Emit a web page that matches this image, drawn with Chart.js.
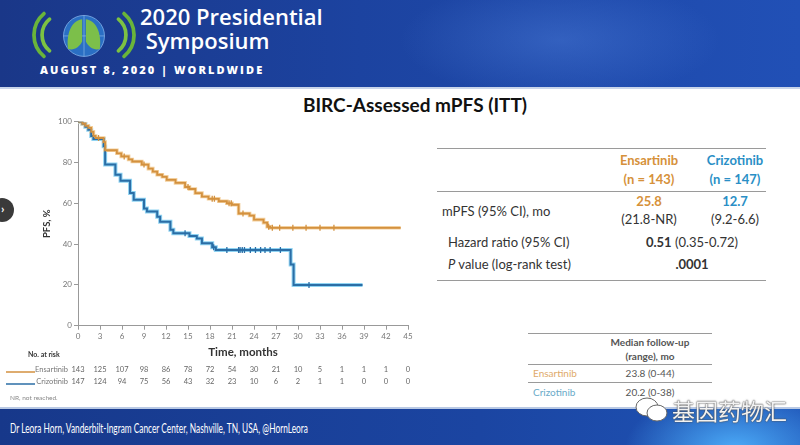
<!DOCTYPE html>
<html>
<head>
<meta charset="utf-8">
<script src="https://cdn.jsdelivr.net/npm/chart.js@4.4.0/dist/chart.umd.min.js"></script>
<style>
  body { margin: 0; width: 800px; height: 445px; overflow: hidden; background: #fff; font-family: Lato, "Open Sans", sans-serif; position: relative; }
  .abs { position: absolute; white-space: nowrap; }
  #header { left: 0; top: 0; width: 800px; height: 87px;
    background: radial-gradient(ellipse 160px 60px at 560px 40px, rgba(90,140,230,0.35), rgba(0,0,0,0)),
                linear-gradient(90deg, #1a3788 0%, #1c43a0 45%, #2150b6 100%);
    border-bottom: 2px solid #c9d5ea; }
  #footer { left: 0; top: 407px; width: 800px; height: 38px;
    background: radial-gradient(ellipse 110px 60px at 735px 40px, rgba(80,180,255,0.9), rgba(0,0,0,0)),
                linear-gradient(90deg, #17388a 0%, #1b45a2 60%, #1f55b8 100%);
    border-top: 2px solid #b9c9e4; }
  .t { color: #333; font-size: 13px; }
  .c { transform: translateX(-50%); text-align: center; }
  .rule { position: absolute; height: 0; border-top: 1.5px solid #9a9a9a; }
  .ens { color: #d6913a; }
  .crz { color: #2a8fc6; }
</style>
</head>
<body>
<div id="header" class="abs"></div>
<svg class="abs" style="left:32px;top:8px" width="104" height="54" viewBox="0 0 110 58">
  <g fill="none" stroke-linecap="round">
    <path d="M18 12 A22 22 0 0 0 18 46" stroke="#7cc242" stroke-width="4"/>
    <path d="M12 6 A30 30 0 0 0 12 52" stroke="#6ab53a" stroke-width="4"/>
    <path d="M92 12 A22 22 0 0 1 92 46" stroke="#7cc242" stroke-width="4"/>
    <path d="M98 6 A30 30 0 0 1 98 52" stroke="#6ab53a" stroke-width="4"/>
  </g>
  <circle cx="55" cy="30" r="22" fill="#2a6fc4" stroke="#8ab8ee" stroke-width="0.8"/>
  <path d="M33 30 H77 M55 8 V52" stroke="#9cc6f0" stroke-width="0.6"/>
  <path d="M53 12 C40 14 36 30 38 44 C44 46 50 42 53 36 Z M57 12 C70 14 74 30 72 44 C66 46 60 42 57 36 Z" fill="#7cbf4a"/>
</svg>
<div class="abs" style="left:140px;top:4px;color:#fff;font-size:22px;line-height:24px;font-weight:600;font-family:'Open Sans',Lato,sans-serif">2020 Presidential<br>&nbsp;Symposium</div>
<div class="abs" style="left:40px;top:62px;color:#fff;font-size:11px;font-weight:900;letter-spacing:2.1px;font-family:'Open Sans',Lato,sans-serif">AUGUST 8, 2020 | WORLDWIDE</div>

<div class="abs" style="left:-10px;top:198px;width:24px;height:24px;border-radius:12px;background:#3a3a3a"></div>
<div class="abs" style="left:1px;top:201px;color:#fff;font-size:12px;font-weight:bold">&rsaquo;</div>

<div class="abs c" style="left:415px;top:93px;font-size:19px;font-weight:bold;color:#111">BIRC-Assessed mPFS (ITT)</div>

<div class="abs" style="left:0;top:112px;width:425px;height:300px"><canvas id="km" width="425" height="300"></canvas></div>

<!-- results table -->
<div class="rule" style="left:437px;top:148px;width:329px"></div>
<div class="abs c ens" style="left:649px;top:151px;font-size:13px;font-weight:bold;line-height:19px">Ensartinib<br>(n = 143)</div>
<div class="abs c crz" style="left:735px;top:151px;font-size:13px;font-weight:bold;line-height:19px">Crizotinib<br>(n = 147)</div>
<div class="rule" style="left:437px;top:191px;width:329px"></div>
<div class="abs t" style="left:442px;top:203px">mPFS (95% CI), mo</div>
<div class="abs c t" style="left:649px;top:192px;line-height:18px"><b class="ens">25.8</b><br>(21.8-NR)</div>
<div class="abs c t" style="left:735px;top:192px;line-height:18px"><b class="crz">12.7</b><br>(9.2-6.6)</div>
<div class="abs t" style="left:448px;top:234px">Hazard ratio (95% CI)</div>
<div class="abs c t" style="left:692px;top:234px"><b>0.51</b> (0.35-0.72)</div>
<div class="abs t" style="left:448px;top:256px"><i>P</i> value (log-rank test)</div>
<div class="abs c t" style="left:692px;top:256px"><b>.0001</b></div>
<div class="rule" style="left:437px;top:280px;width:329px"></div>

<!-- follow-up table -->
<div class="rule" style="left:528px;top:333px;width:184px;border-top-width:1px"></div>
<div class="abs c" style="left:650px;top:335px;font-size:10px;font-weight:bold;color:#555;line-height:14px">Median follow-up<br>(range), mo</div>
<div class="rule" style="left:528px;top:364px;width:184px;border-top-width:1px"></div>
<div class="abs ens" style="left:533px;top:367px;font-size:10px;color:#e0aa6a">Ensartinib</div>
<div class="abs c" style="left:650px;top:367px;font-size:10px;color:#555">23.8 (0-44)</div>
<div class="rule" style="left:528px;top:382px;width:184px;border-top-width:1px"></div>
<div class="abs crz" style="left:533px;top:386px;font-size:10px;color:#6aaac8">Crizotinib</div>
<div class="abs c" style="left:650px;top:386px;font-size:10px;color:#555">20.2 (0-38)</div>

<div id="footer" class="abs"></div>
<div class="abs" style="left:10px;top:420px;color:#fff;font-size:13px;transform:scaleX(0.64);transform-origin:left top">Dr Leora Horn, Vanderbilt-Ingram Cancer Center, Nashville, TN, USA, @HornLeora</div>

<!-- watermark -->
<svg class="abs" style="left:634px;top:396px" width="36" height="28" viewBox="0 0 36 28">
  <ellipse cx="13" cy="11" rx="11" ry="9" fill="#fff" stroke="#666" stroke-width="1"/>
  <ellipse cx="23" cy="17" rx="10" ry="8" fill="#fff" stroke="#666" stroke-width="1"/>
</svg>
<div class="abs" style="left:672px;top:393px;font-size:23px;color:#f2f2f2;font-family:'Noto Sans CJK SC',sans-serif;text-shadow:0 0 2px #555,0 0 1px #333">基因药物汇</div>

<script>
// Kaplan-Meier steps: time (months) where PFS drops, and PFS (%) after the drop
const ensTimes = [0, 0.6, 1.0, 1.4, 1.8, 2.1, 2.4, 3.5, 3.7, 5.3, 5.9, 6.9, 7.4, 8.7, 9.6, 10.2, 10.8, 11.5, 12.1, 13.3, 14.6, 15.2, 16.0, 16.9, 17.8, 19.2, 20.3, 21.0, 21.9, 23.4, 24.0, 25.3, 25.8, 26.2, 44.0];
const ensPfs   = [100, 99, 98, 97, 95, 93, 92, 90, 86, 84.5, 83, 81.5, 80.5, 79, 77, 75.5, 74, 73, 71.5, 70, 68, 67, 65, 63.3, 62.2, 61, 60, 59.3, 55, 54, 52, 50.5, 48.5, 48, 48];
const crzTimes = [0, 0.6, 1.0, 1.4, 1.8, 2.1, 3.5, 3.7, 5.1, 5.8, 7.1, 7.6, 9.0, 9.4, 10.8, 11.2, 12.6, 13.0, 15.2, 16.2, 16.9, 18.3, 18.8, 29.0, 29.4, 38.8];
const crzPfs   = [100, 99, 97.5, 96, 93, 91.5, 88, 79, 74, 71, 65, 61.8, 57.5, 56, 53.4, 51, 47, 45.3, 44, 42.8, 40.4, 38.5, 37.1, 30, 20, 20];

// censoring times (tick marks)
const ensCensor = [2.8, 6.3, 9.0, 15.0, 18.3, 18.6, 20.6, 20.9, 22.5, 26.0, 26.5, 27.5, 29.3, 31.1, 33.0, 34.9];
const crzCensor = [14.6, 18.5, 20.3, 21.9, 22.1, 22.4, 22.7, 23.5, 24.2, 24.9, 25.5, 26.2, 27.6, 31.5];

// number at risk
const riskTimes = [0, 3, 6, 9, 12, 15, 18, 21, 24, 27, 30, 33, 36, 39, 42, 45];
const ensRisk = [143, 125, 107, 98, 86, 78, 72, 54, 30, 21, 10, 5, 1, 1, 1, 0];
const crzRisk = [147, 124, 94, 75, 56, 43, 32, 23, 10, 6, 2, 1, 1, 0, 0, 0];

const ensColor = '#d3913f';
const ensGlow = '#f3cf9c';
const crzColor = '#2b6ea6';
const crzGlow = '#8fd3f2';

function pts(times, vals) {
    return times.map((t, i) => ({x: t, y: vals[i]}));
}
function pfsAt(times, vals, t) {
    let v = vals[0];
    for (let i = 0; i < times.length; i++) {
        if (times[i] <= t) v = vals[i];
    }
    return v;
}
function censorPts(cens, times, vals) {
    return cens.map(t => ({x: t, y: pfsAt(times, vals, t)}));
}

const riskTable = {
    id: 'riskTable',
    afterDraw(chart) {
        const ctx = chart.ctx;
        const x = chart.scales.x;
        ctx.save();
        ctx.fillStyle = '#333';
        ctx.font = 'bold 7px Lato, sans-serif';
        ctx.textAlign = 'left';
        ctx.textBaseline = 'middle';
        ctx.fillText('No. at risk', 28, 243);

        ctx.font = '7.5px Lato, sans-serif';
        ctx.fillStyle = '#777';
        ctx.textAlign = 'right';
        ctx.fillText('Ensartinib', 68, 258);
        ctx.fillText('Crizotinib', 68, 270);

        ctx.lineWidth = 1.5;
        ctx.strokeStyle = ensColor;
        ctx.beginPath(); ctx.moveTo(6, 260); ctx.lineTo(35, 260); ctx.stroke();
        ctx.strokeStyle = crzColor;
        ctx.beginPath(); ctx.moveTo(6, 272); ctx.lineTo(35, 272); ctx.stroke();

        ctx.textAlign = 'center';
        ctx.fillStyle = '#666';
        riskTimes.forEach((t, i) => {
            const px = x.getPixelForValue(t);
            ctx.fillText(String(ensRisk[i]), px, 258);
            ctx.fillText(String(crzRisk[i]), px, 270);
        });

        ctx.textAlign = 'left';
        ctx.fillStyle = '#888';
        ctx.font = '6.5px Lato, sans-serif';
        ctx.fillText('NR, not reached.', 10, 286);
        ctx.restore();
    }
};

const tickFont = {family: 'Lato, sans-serif', size: 8};

const config = {
    type: 'line',
    data: {
        datasets: [
            {data: pts(ensTimes, ensPfs), borderColor: ensColor, borderWidth: 1.8, stepped: 'before', pointRadius: 0, order: 2},
            {data: pts(crzTimes, crzPfs), borderColor: crzColor, borderWidth: 2, stepped: 'before', pointRadius: 0, order: 2},
            {data: pts(ensTimes, ensPfs), borderColor: ensGlow, borderWidth: 3.6, stepped: 'before', pointRadius: 0, order: 3},
            {data: pts(crzTimes, crzPfs), borderColor: crzGlow, borderWidth: 4, stepped: 'before', pointRadius: 0, order: 3},
            {data: censorPts(ensCensor, ensTimes, ensPfs), showLine: false, pointStyle: 'line', rotation: 90,
             pointRadius: 3, borderColor: ensColor, borderWidth: 1.3, order: 1},
            {data: censorPts(crzCensor, crzTimes, crzPfs), showLine: false, pointStyle: 'line', rotation: 90,
             pointRadius: 3, borderColor: crzColor, borderWidth: 1.3, order: 1}
        ]
    },
    options: {
        responsive: false,
        animation: false,
        layout: {padding: {left: 37, right: 17, top: 9.7, bottom: 49.3}},
        plugins: {legend: {display: false}, tooltip: {enabled: false}},
        scales: {
            x: {
                type: 'linear', min: 0, max: 45,
                ticks: {stepSize: 3, color: '#777', font: tickFont, padding: 2},
                grid: {drawOnChartArea: false, drawTicks: true, tickLength: 4, color: '#999'},
                border: {color: '#999'},
                title: {display: true, text: 'Time, months', color: '#333', font: {family: 'Lato, sans-serif', size: 11.5, weight: 'bold'}},
                afterFit(scale) { scale.height = 37; }
            },
            y: {
                min: 0, max: 100,
                ticks: {stepSize: 20, color: '#777', font: tickFont, padding: 2},
                grid: {drawOnChartArea: false, drawTicks: true, tickLength: 4, color: '#999'},
                border: {color: '#999'},
                title: {display: true, text: 'PFS, %', color: '#333', font: {family: 'Lato, sans-serif', size: 9.5, weight: 'bold'}},
                afterFit(scale) { scale.width = 41; }
            }
        }
    },
    plugins: [riskTable]
};

const kmChart = new Chart(document.getElementById('km'), config);
</script>
</body>
</html>
